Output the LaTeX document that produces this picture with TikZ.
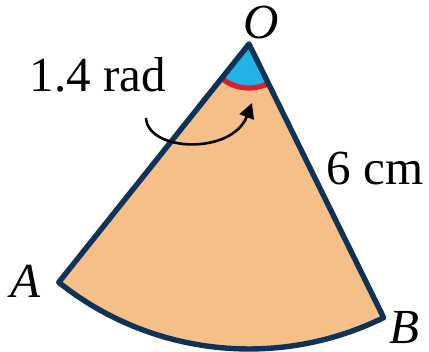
\documentclass[tikz,border=0pt]{standalone}
\usepackage{fontspec}
\setmainfont{Liberation Serif}
\usetikzlibrary{arrows.meta}
\definecolor{sectorfill}{RGB}{245,191,136}
\definecolor{anglefill}{RGB}{34,178,228}
\definecolor{navyline}{RGB}{14,50,88}
\definecolor{redarc}{RGB}{222,30,40}
\tikzset{
  lbl/.style={font=\fontsize{24.5}{28}\selectfont, inner sep=0pt},
  outline/.style={draw=navyline, line width=2.7pt, line join=round},
}
\begin{document}
\begin{tikzpicture}[x=0.5pt,y=0.5pt]
\useasboundingbox (0,0) rectangle (429,-352);
\coordinate (O) at (249,-44);
\path (O) ++(231.4:305) coordinate (A);
\path (O) ++(296.2:305) coordinate (B);
% sector
\fill[sectorfill] (O) -- (A) arc[start angle=231.4, end angle=296.2, radius=305] -- cycle;
% angle region
\fill[anglefill] (O) -- ++(231.4:44) arc[start angle=231.4, end angle=296.2, radius=44] -- cycle;
\draw[redarc, line width=2.6pt] (O) ++(228.5:44) arc[start angle=228.5, end angle=299, radius=44];
% outline
\draw[outline] (O) -- (A) arc[start angle=231.4, end angle=296.2, radius=305] -- cycle;
% labels
\node[lbl] (lO) at (261,-23) {\textit{O}};
\node[lbl] (lA) at (26,-281) {\textit{A}};
\node[lbl] (lB) at (404,-328) {\textit{B}};
\node[lbl] (lr) at (375,-169) {6 cm};
\node[lbl] (la) at (98,-75) {1.4 rad};
% arrow
\coordinate (s) at (146,-118);
\coordinate (t) at (252,-103);
\draw[line width=1.3pt, -{Triangle[length=7.5pt,width=7.5pt]}] (s) .. controls (148,-152) and (232,-155) .. (t);
\end{tikzpicture}
\end{document}
